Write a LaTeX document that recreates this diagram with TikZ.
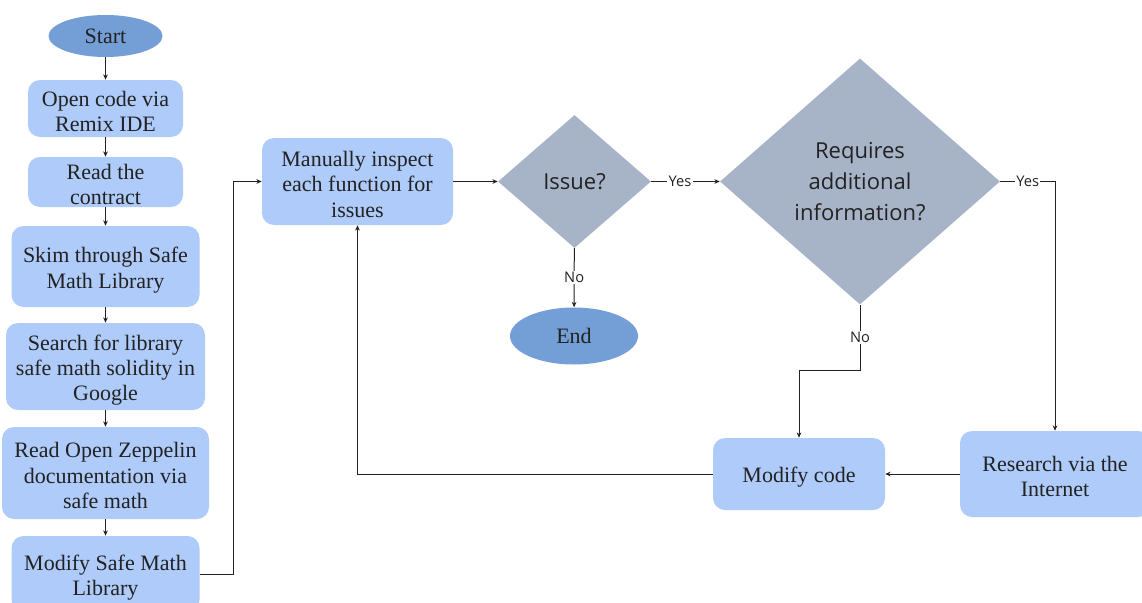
\documentclass[tikz,border=0pt]{standalone}
\usepackage{fontspec}
\setmainfont{Liberation Serif}
\newfontfamily\qfont{Open Sans}
\usetikzlibrary{shapes.geometric,arrows.meta}
\definecolor{bx}{RGB}{174,203,250}
\definecolor{dm}{RGB}{167,180,200}
\definecolor{el}{RGB}{115,159,214}
\definecolor{ln}{RGB}{34,34,34}
% pads the first and last line so box text sits a bit low
\newcommand{\bt}[1]{\rule{0pt}{16.9pt}#1\rule[-1.6pt]{0pt}{0pt}}

\begin{document}
\begin{tikzpicture}[
    x=0.75pt, y=-0.75pt,
    >={Stealth[length=4pt,width=3.5pt]},
    font=\fontsize{16.5}{19}\selectfont,
    l/.style={
        line width=0.75pt,
        color=ln
    },
    b/.style={
        rounded corners=9pt, inner sep=0pt, align=center,
        fill=bx, draw=none, text=ln
    },
    t/.style={
        ellipse, inner sep=0pt,
        fill=el, draw=none, text=ln
    },
    q/.style={
        diamond, inner sep=0pt, align=center,
        fill=dm, draw=none, text=ln,
        font=\qfont\fontsize{16.5}{23}\selectfont
    },
    lab/.style={fill=white, inner sep=1pt, text=ln,
        font=\qfont\fontsize{11}{13}\selectfont}
]

\useasboundingbox (0,0) rectangle (1142,603);

% left column
\node [t, minimum width=85.5pt, minimum height=31.5pt] (start) at (105.5,36) {Start};
\node [b, minimum width=116.25pt, minimum height=42.75pt] (open) at (105.5,108.5) {\bt{Open code via\\Remix IDE}};
\node [b, minimum width=116.25pt, minimum height=37.5pt] (read) at (105.5,182) {\bt{Read the\\contract}};
\node [b, minimum width=141pt, minimum height=60.75pt] (skim) at (105.5,266.5) {\bt{Skim through Safe\\Math Library}};
\node [b, minimum width=149.25pt, minimum height=65.25pt] (search) at (105.5,366.5) {\bt{Search for library\\safe math solidity in\\Google}};
\node [b, minimum width=155.25pt, minimum height=69pt] (zep) at (105.5,473) {\bt{Read Open Zeppelin\\documentation via\\safe math}};
\node [b, minimum width=141pt, minimum height=57pt] (modlib) at (105.5,574) {\bt{Modify Safe Math\\Library}};

\draw [l,->] (start) -- (open);
\draw [l,->] (open) -- (read);
\draw [l,->] (read) -- (skim);
\draw [l,->] (skim) -- (search);
\draw [l,->] (search) -- (zep);
\draw [l,->] (zep) -- (modlib);

% inspection loop
\node [b, minimum width=143.25pt, minimum height=65.25pt] (inspect) at (357.5,181.5) {\bt{Manually inspect\\each function for\\issues}};
\node [q, minimum width=114.75pt, minimum height=99.75pt] (issue) at (574.5,181.5) {Issue?};
\node [t, minimum width=96pt, minimum height=42.75pt] (end) at (574,336) {End};
\node [q, minimum width=210pt, minimum height=184.5pt] (reqinfo) at (860,181.5) {Requires\\additional\\information?};
\node [b, minimum width=129pt, minimum height=54pt] (modcode) at (799,474) {\bt{Modify code}};
\node [b, minimum width=142.5pt, minimum height=64.5pt] (research) at (1055,474) {\bt{Research via the\\Internet}};

\draw [l,->] (modlib.east) -- ++(34,0) |- (inspect.west);
\draw [l,->] (inspect) -- (issue);
\draw [l,->] (issue) -- node [lab, pos=0.42] {Yes} (reqinfo);
\draw [l,->] (issue) -- node [lab] {No} (end);
\draw [l,->] (reqinfo.east) -| node [lab, pos=0.25] {Yes} (research.north);
\draw [l,->] (reqinfo.south) -- node [lab] {No} ++(0,66) -| (modcode.north);
\draw [l,->] (research) -- (modcode);
\draw [l,->] (modcode.west) -| (inspect.south);

\end{tikzpicture}
\end{document}
